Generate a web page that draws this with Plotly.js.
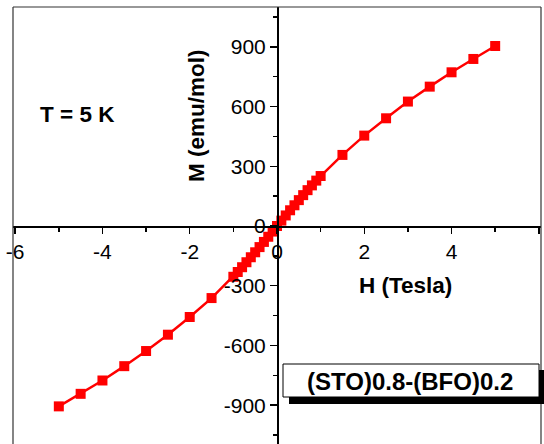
<!DOCTYPE html>
<html>
<head>
<meta charset="utf-8">
<script src="https://cdn.plot.ly/plotly-3.0.1.min.js"></script>
<style>html,body{margin:0;padding:0;background:#fff;}#chart{width:544px;height:444px;}</style>
</head>
<body>
<div id="chart"></div>
<script>
// Field H (Tesla)
const fieldH = [-5, -4.5, -4, -3.5, -3, -2.5, -2, -1.5, -1, -0.9, -0.8, -0.7, -0.6, -0.5, -0.4, -0.3, -0.2, -0.1, 0,
                0.1, 0.2, 0.3, 0.4, 0.5, 0.6, 0.7, 0.8, 0.9, 1, 1.5, 2, 2.5, 3, 3.5, 4, 4.5, 5];
// Magnetization M (emu/mol)
const magM = [-906, -843, -776, -704, -628, -546, -457, -362, -255, -231, -207, -182, -157, -132, -106, -80, -54, -28, 0,
              27, 53, 79, 104, 130, 155, 180, 204, 228, 251, 357, 454, 541, 625, 700, 772, 839, 904];
const xTickVals = [-6, -4, -2, 0, 2, 4, 6];
const yTickVals = [-900, -600, -300, 0, 300, 600, 900];
const tempLabel = "T = 5 K";
const sampleLabel = "(STO)0.8-(BFO)0.2";
const xLabel = "H (Tesla)";
const yLabel = "M (emu/mol)";

const W = 528, H = 437, L = 13, T = 7;
const px = v => (v - L) / W;
const py = v => (T + H - v) / H;

const trace = {
  x: fieldH, y: magM, type: 'scatter', mode: 'lines+markers',
  line: {color: '#ff0000', width: 2.5},
  marker: {symbol: 'square', size: 10, color: '#ff0000'},
  showlegend: false
};

const tickFont = {family: 'Liberation Sans, Arial, sans-serif', size: 21, color: '#000'};
const boldFont = {family: 'Liberation Sans, Arial, sans-serif', size: 22.5, color: '#000', weight: 'bold'};
const boxFont = {family: 'Liberation Sans, Arial, sans-serif', size: 24, color: '#000', weight: 'bold'};

const layout = {
  width: 544, height: 444,
  margin: {l: L, r: 544 - L - W, t: T, b: 0, pad: 0},
  paper_bgcolor: '#fff', plot_bgcolor: '#fff',
  showlegend: false,
  xaxis: {
    range: [-6.05, 6.05], anchor: 'free', position: py(226),
    showline: true, linecolor: '#000', linewidth: 1.5,
    showgrid: false, zeroline: false,
    tickmode: 'array', tickvals: xTickVals, ticktext: xTickVals.map(String),
    ticks: 'outside', ticklen: 6, tickwidth: 1.5, tickcolor: '#000',
    minor: {ticks: 'outside', dtick: 1, ticklen: 4, tickwidth: 1.5, tickcolor: '#000', showgrid: false},
    tickfont: tickFont
  },
  yaxis: {
    range: [-1095, 1100], anchor: 'free', position: px(277),
    showline: true, linecolor: '#000', linewidth: 1.5,
    showgrid: false, zeroline: false,
    tickmode: 'array', tickvals: yTickVals, ticktext: yTickVals.map(String),
    ticks: 'outside', ticklen: 7, tickwidth: 1.5, tickcolor: '#000',
    minor: {ticks: 'outside', dtick: 150, ticklen: 4, tickwidth: 1.5, tickcolor: '#000', showgrid: false},
    tickfont: tickFont
  },
  shapes: [
    {type: 'line', xref: 'paper', yref: 'paper', x0: 0, x1: 0, y0: -0.02, y1: 1, line: {color: '#333', width: 1.2}, layer: 'above'},
    {type: 'line', xref: 'paper', yref: 'paper', x0: 1, x1: 1, y0: -0.02, y1: 1, line: {color: '#333', width: 1.2}, layer: 'above'},
    {type: 'line', xref: 'paper', yref: 'paper', x0: 0, x1: 1, y0: 1, y1: 1, line: {color: '#333', width: 1.2}, layer: 'above'},
    {type: 'rect', xref: 'paper', yref: 'paper', x0: px(289), x1: px(548), y0: py(404), y1: py(370), fillcolor: '#000', line: {width: 0}, layer: 'above'},
    {type: 'rect', xref: 'paper', yref: 'paper', x0: px(283), x1: px(539), y0: py(397), y1: py(364), fillcolor: '#fff', line: {color: '#000', width: 1}, layer: 'above'}
  ],
  annotations: [
    {text: tempLabel, xref: 'paper', yref: 'paper', x: px(77), y: py(114), showarrow: false, font: boldFont, xanchor: 'center', yanchor: 'middle'},
    {text: yLabel, xref: 'paper', yref: 'paper', x: px(197), y: py(116), showarrow: false, font: boldFont, textangle: -90, xanchor: 'center', yanchor: 'middle'},
    {text: xLabel, xref: 'paper', yref: 'paper', x: px(405), y: py(285), showarrow: false, font: boldFont, xanchor: 'center', yanchor: 'middle'},
    {text: sampleLabel, xref: 'paper', yref: 'paper', x: px(410), y: py(381), showarrow: false, font: boxFont, xanchor: 'center', yanchor: 'middle'}
  ]
};

Plotly.newPlot('chart', [trace], layout, {displayModeBar: false, staticPlot: true});
</script>
</body>
</html>
